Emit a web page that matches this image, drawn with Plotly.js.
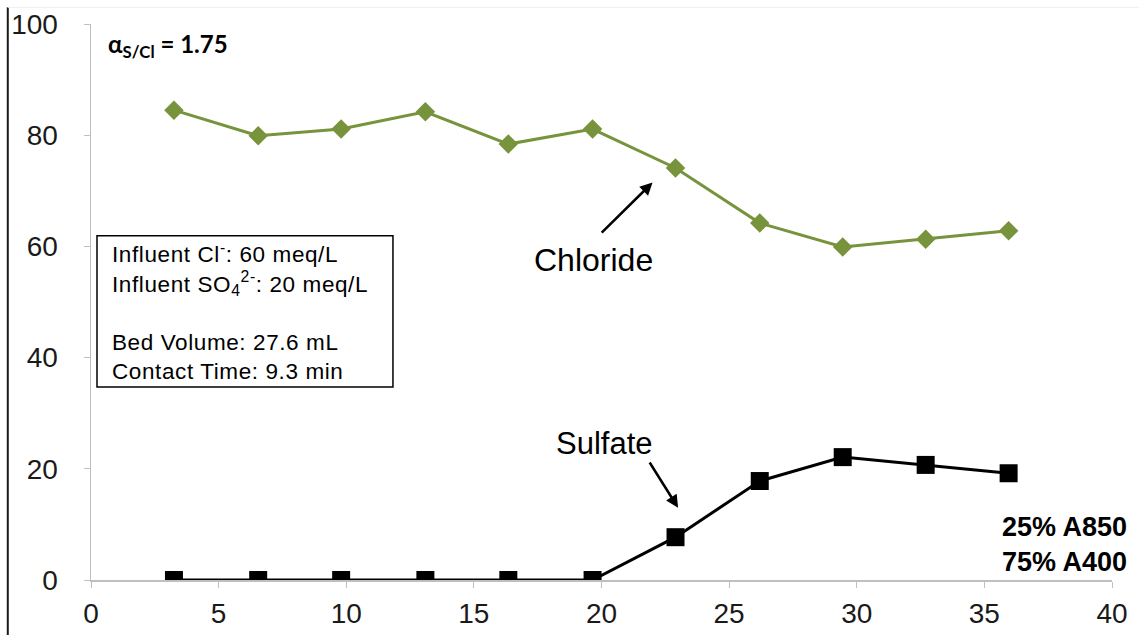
<!DOCTYPE html>
<html>
<head>
<meta charset="utf-8">
<script src="https://cdn.plot.ly/plotly-3.0.1.min.js"></script>
<style>html,body{margin:0;padding:0;background:#fff;}#chart{width:1139px;height:635px;}</style>
</head>
<body>
<div id="chart"></div>
<script>
const bedVolumes = [3.25, 6.55, 9.8, 13.1, 16.35, 19.65, 22.9, 26.2, 29.45, 32.7, 35.95];
const chloride = [84.5, 79.9, 81.1, 84.2, 78.4, 81.1, 74.1, 64.2, 59.9, 61.3, 62.8];
const sulfate = [0, 0, 0, 0, 0, 0, 7.7, 17.8, 22.1, 20.7, 19.2];
const xTicks = [0, 5, 10, 15, 20, 25, 30, 35, 40];
const yTicks = [0, 20, 40, 60, 80, 100];

const traces = [
  {x: bedVolumes, y: chloride, name: 'Chloride', mode: 'lines+markers',
   line: {color: '#77933C', width: 3},
   marker: {symbol: 'diamond', size: 15, color: '#77933C'}},
  {x: bedVolumes, y: sulfate, name: 'Sulfate', mode: 'lines+markers',
   line: {color: '#000000', width: 3},
   marker: {symbol: 'square', size: 18, color: '#000000'}}
];

const axisFont = {family: 'Liberation Sans, Arial, sans-serif', size: 28, color: '#1a1a1a'};
const txtFont = 'Liberation Sans, Arial, sans-serif';
const ls = (s) => '<span style="letter-spacing:0.6px">' + s + '</span>';
const layout = {
  width: 1139, height: 635,
  margin: {l: 91, r: 27, t: 24, b: 55},
  paper_bgcolor: '#ffffff', plot_bgcolor: '#ffffff',
  showlegend: false,
  xaxis: {range: [0, 40], tickvals: xTicks, ticks: 'outside', ticklen: 6, tickcolor: '#bfbfbf',
          showline: true, linecolor: '#bfbfbf', linewidth: 1.5, showgrid: false, zeroline: false,
          tickfont: axisFont, ticklabelstandoff: 2},
  yaxis: {range: [0, 100], tickvals: yTicks, ticks: 'outside', ticklen: 6, tickcolor: '#bfbfbf',
          showline: true, linecolor: '#bfbfbf', linewidth: 1.5, showgrid: false, zeroline: false,
          tickfont: axisFont, ticklabelstandoff: 20},
  shapes: [
    {type: 'line', xref: 'paper', yref: 'paper', x0: -0.0815, x1: -0.0815, y0: -0.1, y1: 1.03,
     line: {color: '#1a1a1a', width: 2}},
    {type: 'line', xref: 'paper', yref: 'paper', x0: -0.0815, x1: 1.03, y0: 1.03, y1: 1.03,
     line: {color: '#eeeeee', width: 1}},
    {type: 'rect', xref: 'x', yref: 'y', x0: 0.235, x1: 11.83, y0: 34.7, y1: 61.9,
     line: {color: '#000', width: 1.5}, fillcolor: '#fff', layer: 'below'}
  ],
  annotations: [
    {xref: 'paper', yref: 'paper', x: 0.015, y: 0.962, xanchor: 'left', yanchor: 'middle', showarrow: false,
     text: '<b>α<sub>S/Cl</sub> = 1.75</b>', font: {family: 'Lato, Open Sans, sans-serif', size: 24, color: '#000'}},
    {x: 0.8, y: 48.3, xanchor: 'left', yanchor: 'middle', showarrow: false,
     align: 'left', borderpad: 0,
     text: ls('Influent Cl<sup>-</sup>: 60 meq/L') + '<br>' + ls('Influent SO<sub>4</sub><sup>2-</sup>: 20 meq/L') +
           '<br> <br>' + ls('Bed Volume: 27.6 mL') + '<br>' + ls('Contact Time: 9.3 min'),
     font: {family: txtFont, size: 22.5, color: '#000'}},
    {x: 19.7, y: 57.6, xanchor: 'center', yanchor: 'middle', showarrow: false, text: 'Chloride',
     font: {family: txtFont, size: 32, color: '#000'}},
    {x: 22.0, y: 71.5, ax: 19.95, ay: 62.2, axref: 'x', ayref: 'y', showarrow: true,
     arrowhead: 2, arrowsize: 1, arrowwidth: 2.5, arrowcolor: '#000', text: ''},
    {x: 20.1, y: 24.6, xanchor: 'center', yanchor: 'middle', showarrow: false, text: 'Sulfate',
     font: {family: txtFont, size: 31, color: '#000'}},
    {x: 23.0, y: 13.0, ax: 21.85, ay: 21.4, axref: 'x', ayref: 'y', showarrow: true,
     arrowhead: 2, arrowsize: 1, arrowwidth: 2.5, arrowcolor: '#000', text: ''},
    {xref: 'paper', yref: 'paper', x: 1.017, y: 0.063, xanchor: 'right', yanchor: 'middle', showarrow: false,
     align: 'right', text: '<b>25% A850<br>75% A400</b>',
     font: {family: txtFont, size: 27, color: '#000'}}
  ]
};
Plotly.newPlot('chart', traces, layout, {displayModeBar: false, staticPlot: true});
</script>
</body>
</html>
